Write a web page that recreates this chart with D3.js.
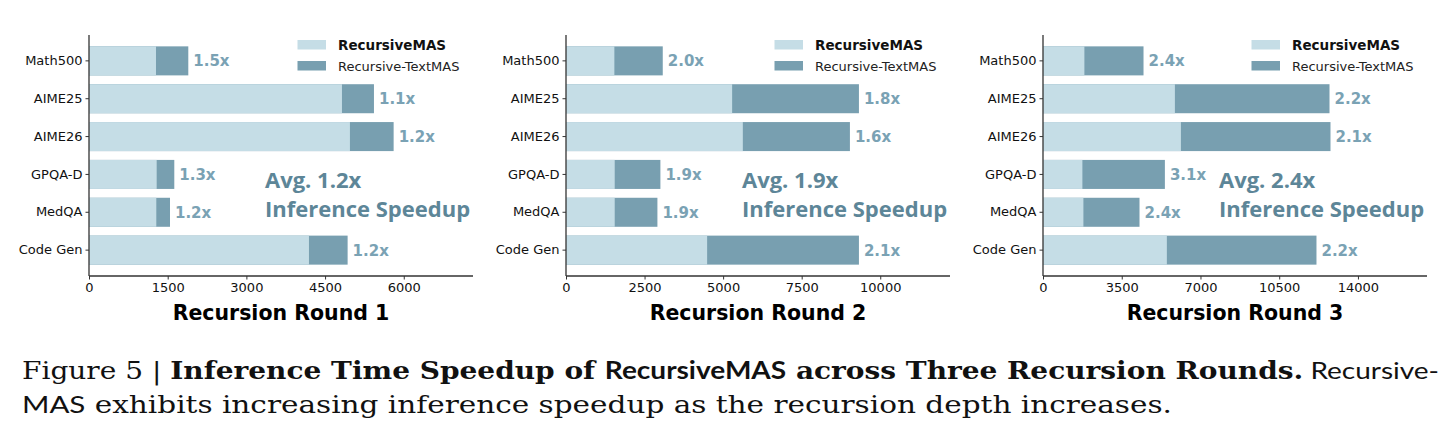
<!DOCTYPE html>
<html>
<head>
<meta charset="utf-8">
<script src="https://cdn.jsdelivr.net/npm/d3@7"></script>
<style>
  body { margin: 0; background: #fff; }
  svg { display: block; }
</style>
</head>
<body>
<script>
// categories and values (inference time)
var categories = ["Math500", "AIME25", "AIME26", "GPQA-D", "MedQA", "Code Gen"];

var round1Mas  = [1277, 4822, 4974, 1290, 1283, 4193];
var round1Text = [1893, 5432, 5807, 1626, 1544, 4930];
var round1Speedup = ["1.5x", "1.1x", "1.2x", "1.3x", "1.2x", "1.2x"];
var round1Ticks = [0, 1500, 3000, 4500, 6000];

var round2Mas  = [1539, 5287, 5627, 1550, 1550, 4491];
var round2Text = [3079, 9322, 9035, 3004, 2909, 9322];
var round2Speedup = ["2.0x", "1.8x", "1.6x", "1.9x", "1.9x", "2.1x"];
var round2Ticks = [0, 2500, 5000, 7500, 10000];

var round3Mas  = [1840, 5863, 6131, 1751, 1796, 5506];
var round3Text = [4468, 12736, 12780, 5418, 4290, 12157];
var round3Speedup = ["2.4x", "2.2x", "2.1x", "3.1x", "2.4x", "2.2x"];
var round3Ticks = [0, 3500, 7000, 10500, 14000];

var avgSpeedup = ["Avg. 1.2x", "Avg. 1.9x", "Avg. 2.4x"];
var roundTitles = ["Recursion Round 1", "Recursion Round 2", "Recursion Round 3"];
var xMax = [7320, 12220, 17070];

var panels = [
    {mas: round1Mas, text: round1Text, speedup: round1Speedup, ticks: round1Ticks},
    {mas: round2Mas, text: round2Text, speedup: round2Speedup, ticks: round2Ticks},
    {mas: round3Mas, text: round3Text, speedup: round3Speedup, ticks: round3Ticks}
];

var lightColor = "#c5dde6";
var darkColor = "#789fb0";
var labelColor = "#7aa2b4";
var avgColor = "#5d8698";

var w = 1452, h = 446;
var panelLeft = [89, 566, 1043];
var plotW = 384;
var plotTop = 35, plotBottom = 276;

var svg = d3.select("body").append("svg")
    .attr("width", w)
    .attr("height", h);

var y = d3.scaleBand()
    .domain(categories)
    .range([plotTop, plotBottom])
    .paddingInner(0.233)
    .paddingOuter(0.3);

panels.forEach(function(p, k) {

    var x = d3.scaleLinear()
        .domain([0, xMax[k]])
        .range([0, plotW]);

    var chart = svg.append("g")
        .attr("transform", "translate(" + panelLeft[k] + ",0)");

    // TextMAS bar (full length) behind, RecursiveMAS bar on top
    chart.selectAll(".dark")
        .data(categories)
        .enter()
        .append("rect")
        .attr("x", x(0))
        .attr("y", function(d) { return y(d); })
        .attr("width", function(d, i) { return x(p.text[i]) - x(0); })
        .attr("height", y.bandwidth())
        .attr("fill", darkColor);

    chart.selectAll(".light")
        .data(categories)
        .enter()
        .append("rect")
        .attr("x", x(0))
        .attr("y", function(d) { return y(d); })
        .attr("width", function(d, i) { return x(p.mas[i]) - x(0); })
        .attr("height", y.bandwidth())
        .attr("fill", lightColor);

    // speedup labels
    chart.selectAll(".lab")
        .data(categories)
        .enter()
        .append("text")
        .attr("x", function(d, i) { return x(p.text[i]) + 5; })
        .attr("y", function(d) { return y(d) + y.bandwidth() / 2; })
        .attr("dy", "0.36em")
        .style("font-family", "DejaVu Sans")
        .style("font-weight", "bold")
        .style("font-size", "15px")
        .style("fill", labelColor)
        .text(function(d, i) { return p.speedup[i]; });

    // axes
    var xAxis = d3.axisBottom(x).tickValues(p.ticks).tickSize(3.5).tickPadding(3).tickFormat(d3.format("d"));
    var yAxis = d3.axisLeft(y).tickSize(3.5).tickPadding(3);

    var gx = chart.append("g")
        .attr("transform", "translate(0," + plotBottom + ")")
        .call(xAxis);
    var gy = chart.append("g")
        .call(yAxis);

    [gx, gy].forEach(function(g) {
        g.select(".domain").attr("stroke", "#333").attr("stroke-width", 1.3);
        g.selectAll(".tick line").attr("stroke", "#333");
        g.selectAll(".tick text")
            .style("font-family", "DejaVu Sans")
            .style("font-size", "13px")
            .style("fill", "#111");
    });
    // spines without end caps
    gy.select(".domain").attr("d", "M0," + plotTop + "V" + plotBottom);
    gx.select(".domain").attr("d", "M0,0H" + plotW);

    // legend
    var leg = chart.append("g");
    leg.append("rect").attr("x", 208.5).attr("y", 40).attr("width", 28.5).attr("height", 9.5).attr("fill", lightColor);
    leg.append("rect").attr("x", 208.5).attr("y", 61).attr("width", 28.5).attr("height", 9.5).attr("fill", darkColor);
    leg.append("text").attr("x", 249).attr("y", 49.5)
        .style("font-family", "DejaVu Sans").style("font-weight", "bold")
        .style("font-size", "13.5px").style("fill", "#111")
        .text("RecursiveMAS");
    leg.append("text").attr("x", 249).attr("y", 70.5)
        .style("font-family", "DejaVu Sans")
        .style("font-size", "13px").style("fill", "#222")
        .text("Recursive-TextMAS");

    // average annotation
    chart.append("text").attr("x", 176).attr("y", 187.5)
        .style("font-family", "Open Sans").style("font-weight", "700")
        .style("font-size", "22px").style("fill", avgColor)
        .text(avgSpeedup[k]);
    chart.append("text").attr("x", 176).attr("y", 216.5)
        .style("font-family", "Open Sans").style("font-weight", "700")
        .style("font-size", "22px").style("fill", avgColor)
        .text("Inference Speedup");

    // x title
    chart.append("text")
        .attr("x", plotW / 2)
        .attr("y", 320)
        .attr("text-anchor", "middle")
        .style("font-family", "DejaVu Sans").style("font-weight", "bold")
        .style("font-size", "20.5px").style("fill", "#000")
        .text(roundTitles[k]);
});

// caption
var serif = "DejaVu Serif";
var cap1 = svg.append("text").attr("x", 22).attr("y", 379)
    .attr("textLength", 1417).attr("lengthAdjust", "spacingAndGlyphs")
    .style("font-family", serif).style("font-size", "24px").style("fill", "#111");
cap1.append("tspan").text("Figure 5 | ");
cap1.append("tspan").style("font-weight", "bold").text("Inference Time Speedup of ");
cap1.append("tspan").style("font-family", "Lato").style("font-weight", "bold").text("RecursiveMAS");
cap1.append("tspan").style("font-weight", "bold").text(" across Three Recursion Rounds.");
cap1.append("tspan").style("font-family", "Lato").text(" Recursive-");

var cap2 = svg.append("text").attr("x", 22).attr("y", 413)
    .attr("textLength", 1150).attr("lengthAdjust", "spacingAndGlyphs")
    .style("font-family", serif).style("font-size", "24px").style("fill", "#111");
cap2.append("tspan").style("font-family", "Lato").text("MAS");
cap2.append("tspan").text(" exhibits increasing inference speedup as the recursion depth increases.");
</script>
</body>
</html>
